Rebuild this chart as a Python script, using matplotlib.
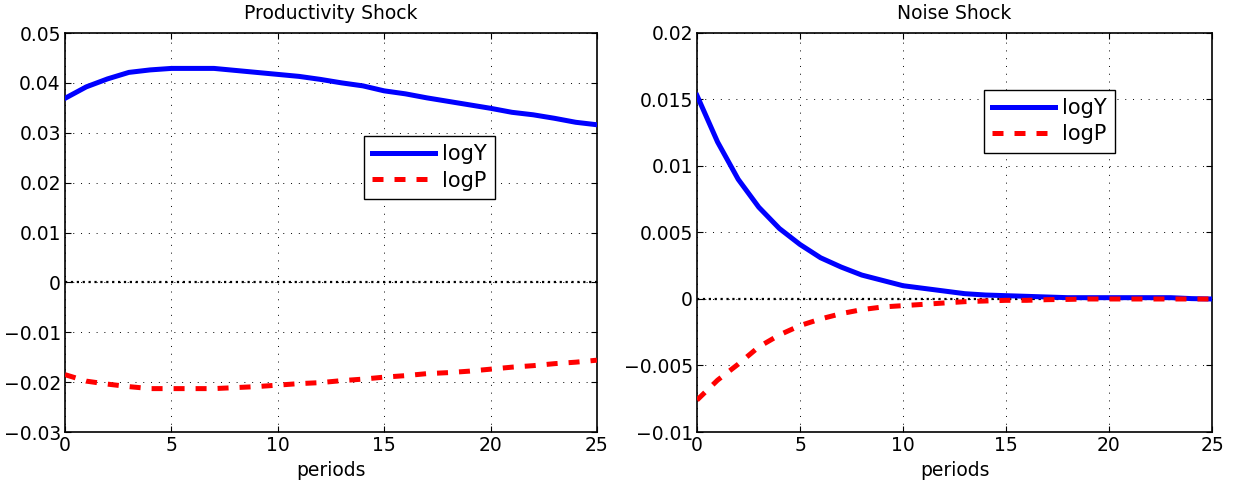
import matplotlib
matplotlib.use("Agg")
import matplotlib.pyplot as plt

# --- datos ---
periods = list(range(26))

prod_logY = [0.0369, 0.0392, 0.0408, 0.0421, 0.0426, 0.0429, 0.0429, 0.0429, 0.0425, 0.0421,
             0.0417, 0.0413, 0.0407, 0.0400, 0.0394, 0.0384, 0.0378, 0.0370, 0.0363, 0.0356,
             0.0349, 0.0341, 0.0336, 0.0329, 0.0321, 0.0316]
prod_logP = [-0.0185, -0.0198, -0.0204, -0.0209, -0.0213, -0.0213, -0.0213, -0.0213, -0.0211, -0.0209,
             -0.0206, -0.0203, -0.0201, -0.0197, -0.0194, -0.0190, -0.0187, -0.0183, -0.0181, -0.0178,
             -0.0174, -0.0170, -0.0167, -0.0163, -0.0160, -0.0156]

noise_logY = [0.0153, 0.0118, 0.0090, 0.0069, 0.0053, 0.0041, 0.0031, 0.0024, 0.0018, 0.0014,
              0.0010, 0.0008, 0.0006, 0.0004, 0.0003, 0.00025, 0.0002, 0.00015, 0.0001, 0.0001,
              0.0001, 0.0001, 0.0001, 0.0001, 0.00003, 0.0]
noise_logP = [-0.0076, -0.0061, -0.0049, -0.0036, -0.0027, -0.0020, -0.0015, -0.0011, -0.0008, -0.0006,
              -0.0005, -0.0004, -0.0003, -0.0002, -0.00015, -0.0001, -0.0001, -0.00005, -0.00003, 0.0,
              0.0, 0.0, 0.0, 0.0, 0.0, 0.0]

prod_yticks = [-0.03, -0.02, -0.01, 0, 0.01, 0.02, 0.03, 0.04, 0.05]
prod_ylabels = ['\u22120.03', '\u22120.02', '\u22120.01', '0', '0.01', '0.02', '0.03', '0.04', '0.05']
noise_yticks = [-0.01, -0.005, 0, 0.005, 0.01, 0.015, 0.02]
noise_ylabels = ['\u22120.01', '\u22120.005', '0', '0.005', '0.01', '0.015', '0.02']
xticks = [0, 5, 10, 15, 20, 25]

plt.rcParams.update({
    'font.family': ['DejaVu Sans'],
    'font.size': 13.5,
})

fig = plt.figure(figsize=(12.34, 4.86), dpi=100)
ax1 = fig.add_axes([65/1234, 1-432/486, 532/1234, 399/486])
ax2 = fig.add_axes([697/1234, 1-432/486, 515/1234, 399/486])


def panel(ax, y1, y2, yticks, ylabels, title, leg_xy):
    ax.axhline(0, color='black', linestyle=':', linewidth=1.6, zorder=1)
    ax.plot(periods, y1, color='#0000ff', linewidth=3.6, label='logY', zorder=3)
    ax.plot(periods, y2, color='#ff0000', linewidth=3.6, linestyle=(0, (2.2, 2.2)), label='logP', zorder=4)
    ax.set_xlim(0, 25)
    ax.set_ylim(yticks[0], yticks[-1])
    ax.set_xticks(xticks)
    ax.set_yticks(yticks)
    ax.set_yticklabels(ylabels)
    ax.grid(True, color='black', linestyle=(0, (1, 7)), linewidth=0.7)
    ax.tick_params(direction='in', length=4, width=0.8, labelsize=13.5, top=True, right=True, pad=3)
    ax.set_xlabel('periods', fontsize=13.5, labelpad=4)
    ax.set_title(title, fontsize=13.5, pad=10)
    for s in ax.spines.values():
        s.set_linewidth(1.2)
    leg = ax.legend(loc='upper left', bbox_to_anchor=leg_xy, fontsize=15, frameon=True,
                    fancybox=False, edgecolor='black', framealpha=1, handlelength=3.0,
                    borderpad=0.4, labelspacing=0.3, handletextpad=0.35, borderaxespad=0)
    leg.get_frame().set_linewidth(1.0)


panel(ax1, prod_logY, prod_logP, prod_yticks, prod_ylabels, 'Productivity Shock', (0.562, 0.742))
panel(ax2, noise_logY, noise_logP, noise_yticks, noise_ylabels, 'Noise Shock', (0.557, 0.858))

fig.savefig('out.png', dpi=100)
